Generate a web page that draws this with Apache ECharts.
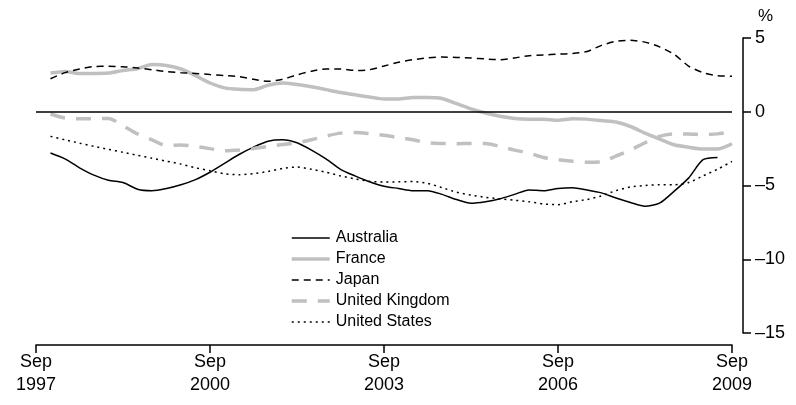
<!DOCTYPE html>
<html><head><meta charset="utf-8">
<script src="https://cdn.jsdelivr.net/npm/echarts@6/dist/echarts.min.js"></script>
<style>html,body{margin:0;padding:0;background:#fff}#c{width:796px;height:405px}</style>
</head><body><div id="c"></div>
<script>
// Quarterly categories Sep 1997 .. Sep 2009
const months = ['Sep','Dec','Mar','Jun'];
const categories = [];
for (let k = 0; k <= 48; k++) {
  categories.push(months[k % 4] + ' ' + (1997 + Math.floor((k + 2) / 4)));
}
const tickLabels = ['Sep 1997','Sep 2000','Sep 2003','Sep 2006','Sep 2009'];

// values (%), first category (Sep 1997) has no value
const australia = [null,-2.8,-3.2,-3.8,-4.3,-4.65,-4.8,-5.25,-5.35,-5.2,-4.95,-4.6,-4.1,-3.5,-2.9,-2.4,-2.0,-1.9,-2.1,-2.6,-3.2,-3.9,-4.35,-4.75,-5.05,-5.2,-5.35,-5.35,-5.6,-5.95,-6.2,-6.1,-5.9,-5.6,-5.3,-5.35,-5.2,-5.15,-5.3,-5.5,-5.85,-6.15,-6.4,-6.2,-5.4,-4.5,-3.25,-3.1,null];
const france = [null,2.62,2.73,2.6,2.6,2.62,2.8,2.92,3.2,3.14,2.9,2.45,1.95,1.62,1.52,1.5,1.8,1.95,1.85,1.7,1.5,1.3,1.15,1.0,0.86,0.86,0.97,0.97,0.9,0.55,0.2,-0.08,-0.3,-0.45,-0.5,-0.5,-0.58,-0.47,-0.5,-0.6,-0.7,-1.0,-1.45,-1.85,-2.24,-2.4,-2.53,-2.53,-2.17];
const japan = [null,2.24,2.65,2.9,3.07,3.08,3.05,2.97,2.85,2.72,2.65,2.6,2.52,2.45,2.38,2.2,2.06,2.2,2.5,2.75,2.9,2.9,2.8,2.85,3.1,3.35,3.53,3.65,3.71,3.68,3.64,3.58,3.53,3.65,3.8,3.85,3.9,3.95,4.09,4.5,4.78,4.84,4.72,4.4,3.9,3.1,2.65,2.45,2.4];
const unitedKingdom = [null,-0.15,-0.42,-0.47,-0.47,-0.45,-0.95,-1.5,-1.9,-2.3,-2.25,-2.35,-2.5,-2.65,-2.6,-2.5,-2.35,-2.22,-2.1,-1.9,-1.65,-1.45,-1.4,-1.48,-1.6,-1.75,-1.9,-2.1,-2.15,-2.17,-2.15,-2.15,-2.35,-2.6,-2.8,-3.1,-3.25,-3.35,-3.42,-3.4,-3.0,-2.6,-2.1,-1.67,-1.5,-1.5,-1.56,-1.5,-1.34];
const unitedStates = [null,-1.67,-1.9,-2.13,-2.35,-2.55,-2.75,-2.95,-3.15,-3.35,-3.55,-3.8,-4.0,-4.2,-4.27,-4.2,-4.05,-3.85,-3.75,-3.9,-4.1,-4.35,-4.55,-4.72,-4.77,-4.75,-4.73,-4.85,-5.15,-5.45,-5.65,-5.8,-5.9,-6.0,-6.1,-6.25,-6.3,-6.1,-5.95,-5.7,-5.35,-5.1,-5.0,-4.95,-4.95,-4.8,-4.35,-3.9,-3.37];

const FONT = 'Liberation Sans, Arial, sans-serif';
const GREY = '#c0c0c0';
const chart = echarts.init(document.getElementById('c'), null, {renderer:'canvas'});
function mk(name, data, color, width, type) {
  return {name, type:'line', data, symbol:'none', smooth:0.25, connectNulls:false,
    lineStyle:{color, width, type, cap:'butt'}, itemStyle:{color}, emphasis:{disabled:true}, z: 3};
}
const aus = mk('Australia', australia, '#000', 1.5, 'solid');
aus.markLine = {silent:true, symbol:['none','none'], label:{show:false},
  lineStyle:{color:'#000', width:1.5, type:'solid'}, data:[{yAxis:0}], animation:false};
chart.setOption({
  animation:false,
  grid:{left:36, right:64, top:38, bottom:72},
  graphic:[{type:'text', left:758, top:8, style:{text:'%', font:'17px '+FONT, fill:'#000'}}],
  legend:{orient:'vertical', left:285, top:225, itemWidth:38, itemHeight:12, itemGap:5,
    itemStyle:{opacity:0},
    textStyle:{fontFamily:FONT, fontSize:16, color:'#000', padding:[0,0,0,1]},
    data:[
      {name:'Australia', lineStyle:{width:1.5}},
      {name:'France', lineStyle:{width:3.5}},
      {name:'Japan', lineStyle:{width:1.5}},
      {name:'United Kingdom', lineStyle:{width:3.5}},
      {name:'United States', lineStyle:{width:1.5}}
    ]},
  xAxis:{type:'category', data:categories, boundaryGap:false, offset:12,
    axisLine:{onZero:false, lineStyle:{color:'#000', width:1.5}},
    axisTick:{length:8, interval:11, lineStyle:{color:'#000', width:1.5}},
    axisLabel:{interval:11, margin:6, fontFamily:FONT, fontSize:18, lineHeight:23, color:'#000',
      formatter:v => tickLabels.indexOf(v) >= 0 ? v.replace(' ','\n') : ''},
    splitLine:{show:false}},
  yAxis:{type:'value', position:'right', offset:11, min:-15, max:5, interval:5,
    axisLine:{show:true, onZero:false, lineStyle:{color:'#000', width:1.5}},
    axisTick:{show:true, length:8, lineStyle:{color:'#000', width:1.5}},
    axisLabel:{margin:12, fontFamily:FONT, fontSize:18, color:'#000',
      formatter:v => v < 0 ? '\u2013' + Math.abs(v) : String(v)},
    splitLine:{show:false}},
  series:[
    aus,
    mk('France', france, GREY, 3.5, 'solid'),
    mk('Japan', japan, '#000', 1.5, [7,5]),
    mk('United Kingdom', unitedKingdom, GREY, 3.5, [15,11]),
    mk('United States', unitedStates, '#000', 1.5, [2,4])
  ]
});
</script></body></html>
